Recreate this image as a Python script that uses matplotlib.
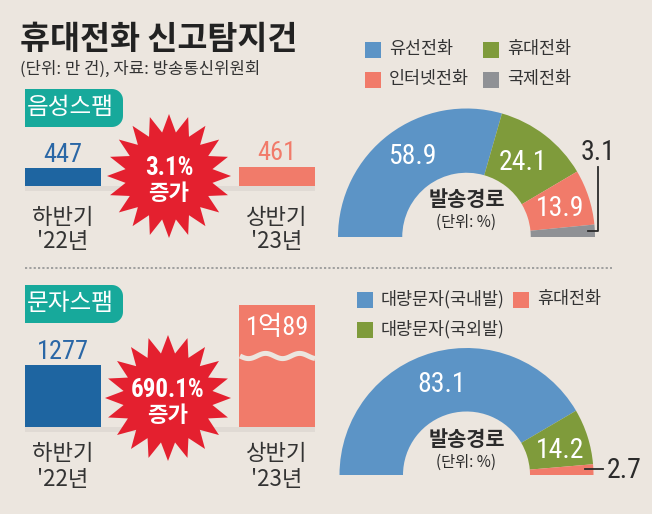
import numpy as np
import matplotlib
matplotlib.use("Agg")
import matplotlib.pyplot as plt
from matplotlib.patches import Polygon, Rectangle

plt.rcParams['font.family'] = ['Noto Sans CJK KR', 'DejaVu Sans']

# ---------------- data ----------------
periods = ["하반기\n'22년", "상반기\n'23년"]
voice_counts = [447, 461]            # 만 건
voice_labels = ["447", "461"]
voice_increase = "3.1%"
text_counts = [1277, 10089]          # 만 건 (1억89)
text_labels = ["1277", "1억89"]
text_increase = "690.1%"

voice_routes = ["유선전화", "휴대전화", "인터넷전화", "국제전화"]
voice_share = [58.9, 24.1, 13.9, 3.1]
text_routes = ["대량문자(국내발)", "대량문자(국외발)", "휴대전화"]
text_share = [83.1, 14.2, 2.7]

# ---------------- style ----------------
BG = "#ece6df"
TEAL = "#17a99b"
BAR_BLUE = "#1e65a1"
SALMON = "#f17b6a"
RED = "#e4202f"
PIE_BLUE = "#5c94c6"
GREEN = "#7f9b3b"
GREY = "#8f9195"
DARK = "#2b2b2b"
NUM = ['Roboto Condensed', 'Noto Sans CJK KR']

W, H = 652, 514
fig = plt.figure(figsize=(W / 100, H / 100), dpi=100, facecolor=BG)
PX = 0.0523  # pixels per 만 건


def add_px_axes(x0, y0, x1, y1):
    # axes placed by pixel box (y from top)
    return fig.add_axes([x0 / W, (H - y1) / H, (x1 - x0) / W, (y1 - y0) / H])


#########################################################
def bar_block(counts, colors, base_y, height):
    ax = add_px_axes(0, base_y - height, W, base_y)
    ax.bar([63, 277], counts, width=76, color=colors, zorder=2)
    ax.set_xlim(0, W)
    ax.set_ylim(0, height / PX)
    ax.axis('off')
    return ax


bar_block(voice_counts, [BAR_BLUE, SALMON], 191, 60)
bar_block(text_counts, [BAR_BLUE, SALMON], 432, 127)


#########################################################
def half_donut(share, colors, cx, cy, r):
    ax = add_px_axes(cx - r, cy - r, cx + r, cy + r)
    vals = list(share) + [sum(share)]
    cols = list(colors) + ['none']
    ax.pie(vals, colors=cols, startangle=180, counterclock=False,
           wedgeprops=dict(width=0.5, edgecolor='none', linewidth=0))
    ax.set_xlim(-1, 1)
    ax.set_ylim(-1, 1)
    ax.set_aspect('equal')
    ax.axis('off')
    return ax


half_donut(voice_share, [PIE_BLUE, GREEN, SALMON, GREY], 466.5, 237, 128.5)
half_donut(text_share, [PIE_BLUE, GREEN, SALMON], 466.5, 475, 127)

# ---------------- overlay (pixel coords) ----------------
ax = fig.add_axes([0, 0, 1, 1])
ax.set_xlim(0, W)
ax.set_ylim(H, 0)
ax.axis('off')
ax.patch.set_alpha(0)

# title
ax.text(20, 40, "휴대전화 신고탐지건", fontsize=23.5, fontweight='bold',
        color="#222222", va='center', ha='left')
ax.text(20, 69, "(단위: 만 건), 자료: 방송통신위원회", fontsize=12,
        color="#333333", va='center', ha='left')

# dotted separator
ax.plot([25, 612], [268, 268], color="#9a9a9a", lw=1.3, ls=(0, (1.2, 1.2)))


def tag(y0, y1, label):
    x0, x1, rr = 25, 123, 11
    top_c = (x1 - rr, y0 + rr)
    bot_c = (x1 - rr, y1 - rr)
    pts = [(x0, y0), (x1 - rr, y0)]
    for t in np.linspace(np.pi / 2, 0, 10):
        pts.append((top_c[0] + rr * np.cos(t), top_c[1] - rr * np.sin(t)))
    for t in np.linspace(0, -np.pi / 2, 10):
        pts.append((bot_c[0] + rr * np.cos(t), bot_c[1] - rr * np.sin(t)))
    pts.append((x0, y1))
    ax.add_patch(Polygon(pts, closed=True, color=TEAL, lw=0))
    ax.text(70, (y0 + y1) / 2 - 1, label, fontsize=17,
            color='white', ha='center', va='center')


tag(89, 127, "음성스팸")
tag(285, 323, "문자스팸")


def burst(cx, cy, ro, ri, txt):
    n = 20
    ang = np.linspace(0, 2 * np.pi, 2 * n, endpoint=False) + np.pi / 2
    rad = np.where(np.arange(2 * n) % 2 == 0, ro, ri)
    pts = np.column_stack([cx + rad * np.cos(ang), cy - rad * np.sin(ang)])
    ax.add_patch(Polygon(pts, closed=True, color=RED, lw=0))
    ax.text(cx, cy - 8, txt, fontsize=18, fontweight='bold', color='white',
            ha='center', va='center', family=NUM, fontstretch='condensed')
    ax.text(cx, cy + 18, "증가", fontsize=16, fontweight='bold', color='white',
            ha='center', va='center')


burst(169, 176, 62, 44, voice_increase)
burst(168, 398, 63, 45, text_increase)

# ground shadows below bars
ax.add_patch(Rectangle((25, 186), 290, 5, color="#e0dad4", lw=0, zorder=0))
ax.add_patch(Rectangle((25, 427), 290, 5, color="#e0dad4", lw=0, zorder=0))

# bar value labels
numkw = dict(ha='center', va='center', family=NUM, fontstretch='condensed')
ax.text(63, 155, voice_labels[0], fontsize=19, color="#2a67a6", **numkw)
ax.text(277, 153, voice_labels[1], fontsize=19, color=SALMON, **numkw)
ax.text(63, 352, text_labels[0], fontsize=19, color="#2a67a6", **numkw)
ax.text(278, 328, text_labels[1], fontsize=19, color='white', **numkw)

# wavy break
wx = np.linspace(240, 315, 120)
wy = 356 + 2.6 * np.sin((wx - 240) / 75 * 2 * np.pi * 2.2)
ax.plot(wx, wy, color=BG, lw=3.6, solid_capstyle='butt')

# period labels
for i, x in enumerate([63, 277]):
    first, second = periods[i].split("\n")
    for y1, y2 in [(217, 242), (453, 479)]:
        ax.text(x, y1, first, fontsize=16, color="#333333", ha='center', va='center')
        ax.text(x, y2, second, fontsize=16, color="#333333", ha='center', va='center')


# legends
def legend_item(x, y, color, label):
    ax.add_patch(Rectangle((x, y - 8), 16, 16, color=color, lw=0))
    ax.text(x + 24, y - 1, label, fontsize=12.5, color="#333333", ha='left', va='center')


legend_item(365, 50, PIE_BLUE, voice_routes[0])
legend_item(483, 50, GREEN, voice_routes[1])
legend_item(365, 80, SALMON, voice_routes[2])
legend_item(483, 80, GREY, voice_routes[3])

legend_item(357, 300, PIE_BLUE, text_routes[0])
legend_item(513, 300, SALMON, text_routes[2])
legend_item(357, 330, GREEN, text_routes[1])

# pie labels, top
ax.text(412, 157, f"{voice_share[0]}", fontsize=20, color='white', **numkw)
ax.text(523, 162, f"{voice_share[1]}", fontsize=20, color='white', **numkw)
ax.text(560, 208, f"{voice_share[2]}", fontsize=20, color='white', **numkw)
ax.text(598, 152, f"{voice_share[3]}", fontsize=20, color=DARK, **numkw)
ax.plot([598, 598, 588], [167, 231, 231], color=DARK, lw=1.3)
ax.text(466.5, 199, "발송경로", fontsize=15, fontweight='bold', color=DARK, ha='center', va='center')
ax.text(466.5, 222, "(단위: %)", fontsize=11, color=DARK, ha='center', va='center')

# pie labels, bottom
ax.text(442, 385, f"{text_share[0]}", fontsize=20, color='white', **numkw)
ax.text(560, 450, f"{text_share[1]}", fontsize=20, color='white', **numkw)
ax.text(624, 471, f"{text_share[2]}", fontsize=20, color=DARK, **numkw)
ax.plot([585, 603], [469, 469], color=DARK, lw=1.3)
ax.text(466.5, 440, "발송경로", fontsize=15, fontweight='bold', color=DARK, ha='center', va='center')
ax.text(466.5, 462, "(단위: %)", fontsize=11, color=DARK, ha='center', va='center')

fig.savefig("out.png", dpi=100, facecolor=BG)
